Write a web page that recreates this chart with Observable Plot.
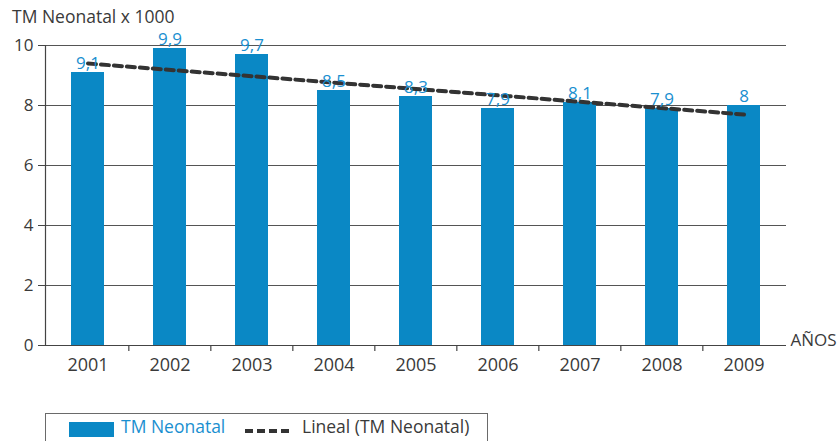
<!DOCTYPE html>
<html>
<head>
<meta charset="utf-8">
<script src="https://cdn.jsdelivr.net/npm/d3@7"></script>
<script src="https://cdn.jsdelivr.net/npm/@observablehq/plot@0.6"></script>
<style>
  html, body { margin: 0; padding: 0; background: #fff; }
  body { width: 838px; height: 441px; overflow: hidden; font-family: "Open Sans", sans-serif; }
  #wrap { position: relative; width: 838px; height: 441px; }
  #title { position: absolute; left: 12px; top: 8px; font-size: 17.5px; line-height: 1; color: #3a3a3a; z-index: 2; }
  #chart { position: absolute; left: 0; top: 15px; }
  #legend { position: absolute; left: 45px; top: 413px; width: 443px; height: 40px; border: 1px solid #6a6a6a; box-sizing: border-box; }
  .sw { position: absolute; left: 23px; top: 8px; width: 45px; height: 15px; background: #0a88c5; }
  .l1 { position: absolute; left: 75px; top: 0px; font-size: 17.5px; color: #1a8fd0; }
  .dash { position: absolute; left: 199px; top: 15px; width: 46px; height: 4px;
          background: repeating-linear-gradient(90deg, #333 0 8px, transparent 8px 12px); }
  .l2 { position: absolute; left: 256px; top: 0px; font-size: 17.5px; color: #3a3a3a; }
</style>
</head>
<body>
<div id="wrap">
  <div id="title">TM Neonatal x 1000</div>
  <div id="chart"></div>
  <div id="legend">
    <div class="sw"></div><div class="l1">TM Neonatal</div>
    <div class="dash"></div><div class="l2">Lineal (TM Neonatal)</div>
  </div>
</div>
<script>
const years = ["2001","2002","2003","2004","2005","2006","2007","2008","2009"];
const values = [9.1, 9.9, 9.7, 8.5, 8.3, 7.9, 8.1, 7.9, 8];
const valueLabels = ["9,1","9,9","9,7","8,5","8,3","7,9","8,1","7,9","8"];
const trendYears = ["2001","2009"];
const trendValues = [9.4, 7.7];
const yTicks = [0, 2, 4, 6, 8, 10];
const axisTitle = "AÑOS";

const data = years.map((y, i) => ({year: y, value: values[i], label: valueLabels[i]}));
const trend = trendYears.map((y, i) => ({year: y, value: trendValues[i]}));

const W = 838, ML = 45, MR = 52;
const step = (W - ML - MR) / years.length;

const chart = Plot.plot({
  width: W,
  height: 375,
  marginTop: 30,
  marginBottom: 45,
  marginLeft: ML,
  marginRight: MR,
  style: {fontFamily: "'Open Sans', sans-serif", fontSize: "17px", color: "#3a3a3a", background: "transparent", overflow: "visible"},
  x: {domain: years, paddingInner: 0.6, paddingOuter: 0.3, label: null},
  y: {domain: [0, 10], label: null},
  marks: [
    Plot.ruleY(yTicks.filter(d => d > 0), {stroke: "#555", strokeWidth: 1}),
    Plot.barY(data, {x: "year", y: "value", fill: "#0a88c5"}),
    Plot.line(trend, {x: "year", y: "value", stroke: "#333", strokeWidth: 4, strokeDasharray: "8,5"}),
    Plot.text(data, {x: "year", y: "value", text: "label", fill: "#1a8fd0", fontSize: 17, lineAnchor: "bottom", dy: -4}),
    Plot.ruleY([0], {stroke: "#444", strokeWidth: 1.2}),
    Plot.frame({anchor: "left", stroke: "#444", strokeWidth: 1.2}),
    Plot.ruleX(years.slice(1), {x: d => d, dx: -step / 2, y1: 0, y2: -0.2, stroke: "#444", strokeWidth: 1.2}),
    Plot.axisY(yTicks, {tickSize: 7, tickPadding: 5, fontSize: 17, fill: "#3a3a3a", stroke: "#444"}),
    Plot.axisX({tickSize: 0, tickPadding: 13, fontSize: 18, fill: "#3a3a3a"}),
    Plot.text([axisTitle], {frameAnchor: "bottom-right", textAnchor: "start", dx: 4, fontSize: 17, fill: "#3a3a3a"})
  ]
});
document.getElementById("chart").appendChild(chart);
</script>
</body>
</html>
